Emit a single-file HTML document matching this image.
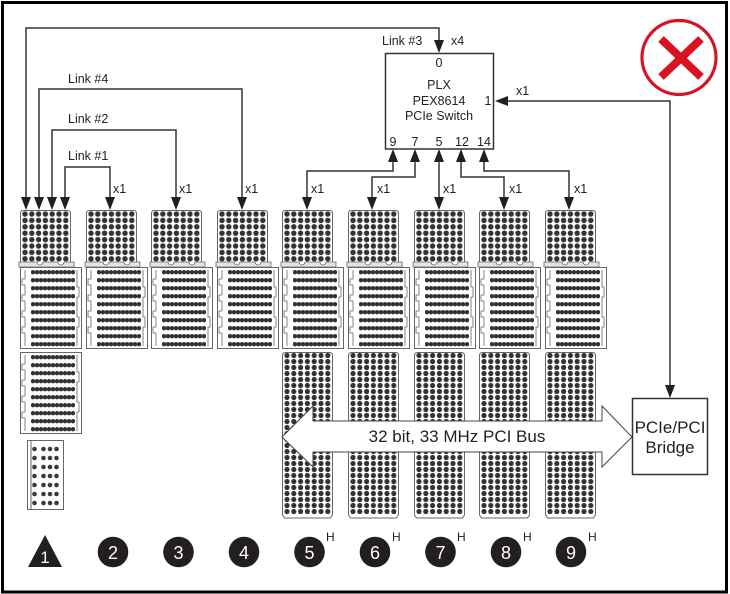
<!DOCTYPE html>
<html><head><meta charset="utf-8"><style>
html,body{margin:0;padding:0;background:#fff;}
svg{display:block;}
text{font-family:"Liberation Sans",Arial,sans-serif;fill:#231f20;}
</style></head><body>
<svg width="730" height="594" viewBox="0 0 730 594" xmlns="http://www.w3.org/2000/svg">
<defs>
<pattern id="pTop" patternUnits="userSpaceOnUse" x="1.6" y="0.8" width="6.8" height="6.4"><circle cx="3.4" cy="3.2" r="2.7" fill="#333"/></pattern>
<pattern id="pStrip" patternUnits="userSpaceOnUse" x="11" y="3" width="4" height="8"><circle cx="2" cy="2.2" r="2.2" fill="#333"/></pattern>
<pattern id="pTall" patternUnits="userSpaceOnUse" x="1.6" y="0.5" width="6.8" height="6"><circle cx="3.4" cy="3" r="2.6" fill="#333"/></pattern>
<g id="top">
 <path d="M0.5,52 V3.5 Q0.5,0.5 3.5,0.5 H47.5 Q50.5,0.5 50.5,3.5 V52" fill="#fff" stroke="#666"/>
 <rect x="1.6" y="0.8" width="47.6" height="51.2" fill="url(#pTop)"/>
 <path d="M-1,52 H17 A3,3 0 0 0 23,52 H38 A3,3 0 0 0 44,52 H54 V57 H-1 Z" fill="#e4e4e4" stroke="#666" stroke-width="0.8"/>
</g>
<g id="mid">
 <rect x="0.5" y="0.5" width="61" height="81" fill="#fff" stroke="#666"/>
 <path d="M5,3 V12 H2 V18 H5 V28 H2 V34 H5 V44 H2 V50 H5 V60 H2 V66 H5 V79" fill="none" stroke="#666" stroke-width="0.8"/>
 <path d="M57,3 V20 H59 V30 H57 V50 H59 V60 H57 V79" fill="none" stroke="#666" stroke-width="0.8"/>
 <rect x="11" y="3" width="44" height="78" fill="url(#pStrip)"/>
</g>
<g id="tall">
 <path d="M0.5,163 V3.5 Q0.5,0.5 3.5,0.5 H47.5 Q50.5,0.5 50.5,3.5 V163 L48.5,166 H2.5 Z" fill="#fff" stroke="#666"/>
 <rect x="1.6" y="0.5" width="47.6" height="162" fill="url(#pTall)"/>
</g>
</defs>

<!-- outer frame -->
<rect x="2.5" y="2.5" width="724" height="589.5" fill="#fff" stroke="#000" stroke-width="3"/>

<!-- slots: top blocks -->
<use href="#top" x="20" y="210"/>
<use href="#top" x="86" y="210"/>
<use href="#top" x="151" y="210"/>
<use href="#top" x="217" y="210"/>
<use href="#top" x="282" y="210"/>
<use href="#top" x="348" y="210"/>
<use href="#top" x="414" y="210"/>
<use href="#top" x="479" y="210"/>
<use href="#top" x="545" y="210"/>

<!-- middle blocks -->
<use href="#mid" x="20" y="267"/>
<use href="#mid" x="86" y="267"/>
<use href="#mid" x="151" y="267"/>
<use href="#mid" x="217" y="267"/>
<use href="#mid" x="282" y="267"/>
<use href="#mid" x="348" y="267"/>
<use href="#mid" x="414" y="267"/>
<use href="#mid" x="479" y="267"/>
<use href="#mid" x="545" y="267"/>

<!-- slot 1 extras -->
<use href="#mid" x="20" y="352"/>
<g>
 <rect x="27.5" y="440.5" width="36" height="69" fill="#fff" stroke="#666"/>
 <line x1="31" y1="441" x2="31" y2="509" stroke="#666"/>
 <g fill="#3a3a3a">
  <circle cx="34.5" cy="449" r="2.3"/><circle cx="43.5" cy="449" r="2.3"/><circle cx="50" cy="449" r="2.3"/><circle cx="56.5" cy="449" r="2.3"/>
  <circle cx="34.5" cy="458" r="2.3"/><circle cx="43.5" cy="458" r="2.3"/><circle cx="50" cy="458" r="2.3"/><circle cx="56.5" cy="458" r="2.3"/>
  <circle cx="34.5" cy="467" r="2.3"/><circle cx="43.5" cy="467" r="2.3"/><circle cx="50" cy="467" r="2.3"/><circle cx="56.5" cy="467" r="2.3"/>
  <circle cx="34.5" cy="476" r="2.3"/><circle cx="43.5" cy="476" r="2.3"/><circle cx="50" cy="476" r="2.3"/><circle cx="56.5" cy="476" r="2.3"/>
  <circle cx="34.5" cy="485" r="2.3"/><circle cx="43.5" cy="485" r="2.3"/><circle cx="50" cy="485" r="2.3"/><circle cx="56.5" cy="485" r="2.3"/>
  <circle cx="34.5" cy="494" r="2.3"/><circle cx="43.5" cy="494" r="2.3"/><circle cx="50" cy="494" r="2.3"/><circle cx="56.5" cy="494" r="2.3"/>
  <circle cx="34.5" cy="503" r="2.3"/><circle cx="43.5" cy="503" r="2.3"/><circle cx="50" cy="503" r="2.3"/><circle cx="56.5" cy="503" r="2.3"/>
 </g>
</g>

<!-- tall blocks slots 5-9 -->
<use href="#tall" x="282" y="352"/>
<use href="#tall" x="348" y="352"/>
<use href="#tall" x="414" y="352"/>
<use href="#tall" x="479" y="352"/>
<use href="#tall" x="545" y="352"/>

<!-- PCI bus double arrow -->
<polygon points="282,437 313,406 313,421 602,421 602,406 632,437 602,467 602,452 313,452 313,467" fill="#fff" stroke="#444" stroke-width="1"/>
<text x="457" y="442" font-size="17" text-anchor="middle">32 bit, 33 MHz PCI Bus</text>

<!-- connectors -->
<g fill="none" stroke="#333" stroke-width="1.5">
 <polyline points="26,198 26,28 439,28 439,41"/>
 <polyline points="39,198 39,89 242,89 242,198"/>
 <polyline points="52,198 52,130 176,130 176,198"/>
 <polyline points="65,198 65,167 110,167 110,198"/>
 <polyline points="393,161 393,171 307,171 307,198"/>
 <polyline points="415,161 415,177 372,177 372,198"/>
 <polyline points="439,161 439,198"/>
 <polyline points="461,161 461,177 504,177 504,198"/>
 <polyline points="484,161 484,171 569,171 569,198"/>
 <polyline points="507,101 670,101 670,386"/>
</g>
<g fill="#231f20">
 <polygon points="21,197 31,197 26,210"/>
 <polygon points="34,197 44,197 39,210"/>
 <polygon points="47,197 57,197 52,210"/>
 <polygon points="60,197 70,197 65,210"/>
 <polygon points="105,197 115,197 110,210"/>
 <polygon points="171,197 181,197 176,210"/>
 <polygon points="237,197 247,197 242,210"/>
 <polygon points="302,197 312,197 307,210"/>
 <polygon points="367,197 377,197 372,210"/>
 <polygon points="434,197 444,197 439,210"/>
 <polygon points="499,197 509,197 504,210"/>
 <polygon points="564,197 574,197 569,210"/>
 <polygon points="434,40 444,40 439,53"/>
 <polygon points="388,162 398,162 393,149"/>
 <polygon points="410,162 420,162 415,149"/>
 <polygon points="434,162 444,162 439,149"/>
 <polygon points="456,162 466,162 461,149"/>
 <polygon points="479,162 489,162 484,149"/>
 <polygon points="495,101 508,96 508,106"/>
 <polygon points="665,385 675,385 670,398"/>
</g>

<!-- link labels -->
<g font-size="12.5">
 <text x="68" y="83">Link #4</text>
 <text x="68" y="123">Link #2</text>
 <text x="68" y="160">Link #1</text>
 <text x="382" y="45">Link #3</text>
 <text x="451" y="45">x4</text>
 <text x="516" y="95">x1</text>
 <text x="113" y="193">x1</text>
 <text x="179" y="193">x1</text>
 <text x="245" y="193">x1</text>
 <text x="311" y="193">x1</text>
 <text x="377" y="193">x1</text>
 <text x="443" y="193">x1</text>
 <text x="509" y="193">x1</text>
 <text x="574" y="193">x1</text>
</g>

<!-- PLX switch -->
<rect x="385.5" y="53.5" width="108" height="95.5" fill="#fff" stroke="#333" stroke-width="1.5"/>
<g font-size="12.5" text-anchor="middle">
 <text x="439" y="67">0</text>
 <text x="439" y="89">PLX</text>
 <text x="439" y="105">PEX8614</text>
 <text x="439" y="120">PCIe Switch</text>
 <text x="488" y="105">1</text>
 <text x="393" y="146">9</text>
 <text x="415" y="146">7</text>
 <text x="439" y="146">5</text>
 <text x="462" y="146">12</text>
 <text x="484" y="146">14</text>
</g>

<!-- bridge -->
<rect x="632.5" y="398.5" width="75" height="76" fill="#fff" stroke="#333" stroke-width="1.5"/>
<g font-size="17" text-anchor="middle">
 <text x="670" y="433">PCIe/PCI</text>
 <text x="670" y="453">Bridge</text>
</g>

<!-- red X icon -->
<circle cx="679" cy="57.5" r="37" fill="#fff" stroke="#d9121f" stroke-width="3.2"/>
<g stroke="#d9121f" stroke-width="8" stroke-linecap="butt">
 <line x1="661" y1="39" x2="701" y2="77"/>
 <line x1="701" y1="39" x2="661" y2="77"/>
</g>

<!-- slot numbers -->
<polygon points="45,535 62,567 28,567" fill="#231f20"/>
<g fill="#231f20">
 <circle cx="113" cy="552" r="15.3"/>
 <circle cx="178.5" cy="552" r="15.3"/>
 <circle cx="244" cy="552" r="15.3"/>
 <circle cx="309.5" cy="552" r="15.3"/>
 <circle cx="375" cy="552" r="15.3"/>
 <circle cx="440.5" cy="552" r="15.3"/>
 <circle cx="506" cy="552" r="15.3"/>
 <circle cx="571" cy="552" r="15.3"/>
</g>
<g font-size="18" text-anchor="middle" style="fill:#fff">
 <text x="45" y="563" style="fill:#fff" font-size="17">1</text>
 <text x="113" y="559" style="fill:#fff">2</text>
 <text x="178.5" y="559" style="fill:#fff">3</text>
 <text x="244" y="559" style="fill:#fff">4</text>
 <text x="309.5" y="559" style="fill:#fff">5</text>
 <text x="375" y="559" style="fill:#fff">6</text>
 <text x="440.5" y="559" style="fill:#fff">7</text>
 <text x="506" y="559" style="fill:#fff">8</text>
 <text x="571" y="559" style="fill:#fff">9</text>
</g>
<g font-size="12">
 <text x="326" y="541">H</text>
 <text x="392" y="541">H</text>
 <text x="457" y="541">H</text>
 <text x="523" y="541">H</text>
 <text x="588" y="541">H</text>
</g>
</svg>
</body></html>
